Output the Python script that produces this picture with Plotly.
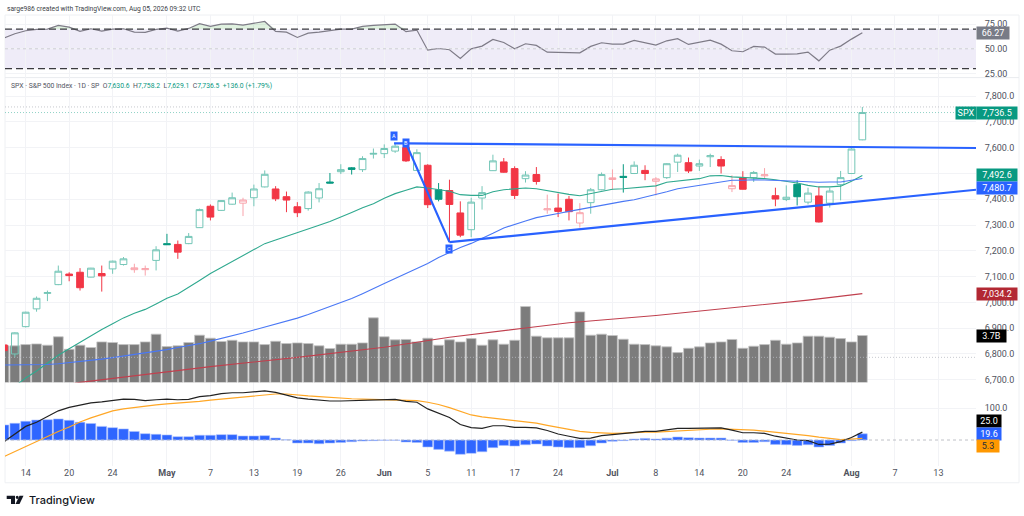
import plotly.graph_objs as go

W = 1024
H = 516
H_draw = 513.2

# bar number 0 is Apr 14, -2 and -1 are cut off by the left edge
first_idx = -2
tick_idx = [0, 4, 8, 13, 17, 21, 25, 29, 33, 37, 41, 45, 49, 54, 58, 62, 66, 70, 76, 80, 84]
tick_text = ['14', '20', '24', '<b>May</b>', '7', '13', '19', '26', '<b>Jun</b>', '5', '11', '17', '24',
             '<b>Jul</b>', '8', '14', '20', '24', '<b>Aug</b>', '7', '13']
x_min = -1.905
x_max = 87.46

opens = [6835, 6800, 6906, 6975, 7035, 7069, 7110, 7117, 7098, 7112, 7130, 7147, 7127, 7127, 7163, 7228,
         7225, 7228, 7290, 7373, 7357, 7381, 7385, 7406, 7448, 7440, 7410, 7371, 7364, 7405, 7467, 7507,
         7522, 7515, 7575, 7577, 7587, 7601, 7512, 7532, 7437, 7434, 7347, 7282, 7405, 7511, 7545, 7519,
         7480, 7496, 7359, 7366, 7400, 7308, 7387, 7437, 7477, 7489, 7500, 7512, 7470, 7484, 7544, 7542,
         7529, 7565, 7554, 7441, 7483, 7484, 7491, 7414, 7399, 7458, 7389, 7413, 7385, 7457, 7500, 7630.6]
highs = [6840, 6884, 6964, 7023, 7046, 7143, 7117, 7133, 7134, 7143, 7162, 7176, 7150, 7143, 7218, 7266,
         7240, 7269, 7364, 7380, 7396, 7426, 7406, 7457, 7512, 7451, 7430, 7389, 7431, 7463, 7502, 7536,
         7525, 7567, 7597, 7613, 7619, 7619, 7594, 7536, 7463, 7476, 7392, 7406, 7451, 7573, 7560, 7528,
         7509, 7525, 7418, 7422, 7413, 7385, 7444, 7504, 7516, 7536, 7547, 7532, 7486, 7540, 7577, 7562,
         7554, 7577, 7567, 7493, 7509, 7510, 7521, 7445, 7454, 7474, 7445, 7450, 7445, 7510, 7598, 7758.2]
lows = [6810, 6787, 6903, 6964, 7005, 7067, 7082, 7046, 7097, 7042, 7111, 7143, 7115, 7104, 7124, 7223,
        7169, 7226, 7289, 7318, 7355, 7379, 7335, 7373, 7446, 7393, 7350, 7331, 7356, 7388, 7462, 7498,
        7496, 7506, 7558, 7560, 7580, 7545, 7510, 7366, 7392, 7233, 7253, 7253, 7360, 7510, 7503, 7401,
        7465, 7457, 7344, 7331, 7318, 7290, 7344, 7435, 7437, 7426, 7498, 7474, 7415, 7479, 7506, 7502,
        7510, 7525, 7500, 7428, 7438, 7467, 7480, 7373, 7393, 7376, 7380, 7310, 7368, 7396, 7498, 7629.1]
closes = [6813, 6882, 6962, 7016, 7038, 7121, 7104, 7057, 7133, 7103, 7160, 7169, 7134, 7131, 7204, 7224,
          7195, 7256, 7360, 7331, 7395, 7406, 7397, 7440, 7497, 7402, 7397, 7348, 7428, 7441, 7463, 7515,
          7516, 7558, 7578, 7597, 7606, 7549, 7581, 7379, 7400, 7380, 7261, 7389, 7426, 7549, 7505, 7415,
          7494, 7469, 7363, 7353, 7352, 7348, 7437, 7496, 7483, 7485, 7532, 7500, 7479, 7538, 7571, 7510,
          7538, 7569, 7529, 7453, 7439, 7504, 7495, 7401, 7408, 7410, 7424, 7312, 7432, 7484, 7595, 7736.5]

ema20 = [None, 6675, 6707, 6734, 6765, 6795, 6820, 6845, 6871, 6895, 6917, 6940, 6958, 6973, 6994, 7016,
         7033, 7058, 7085, 7112, 7135, 7157, 7180, 7205, 7228, 7242, 7256, 7268, 7283, 7299, 7314, 7330,
         7349, 7367, 7383, 7404, 7422, 7435, 7448, 7444, 7437, 7431, 7418, 7415, 7415, 7429, 7437, 7441,
         7444, 7441, 7433, 7427, 7419, 7414, 7423, 7431, 7439, 7441, 7444, 7448, 7452, 7466, 7471, 7476,
         7480, 7491, 7492, 7487, 7485, 7483, 7480, 7476, 7470, 7463, 7454, 7448, 7448, 7451, 7470, 7492.6]
ema50 = [6757, 6757, 6757, 6758, 6759, 6762, 6766, 6770, 6774, 6780, 6786, 6792, 6797, 6803, 6811, 6817,
         6825, 6832, 6840, 6850, 6860, 6870, 6881, 6893, 6904, 6915, 6928, 6939, 6953, 6968, 6984, 7000,
         7015, 7034, 7052, 7073, 7093, 7112, 7132, 7151, 7174, 7195, 7213, 7229, 7247, 7268, 7289, 7301,
         7316, 7329, 7338, 7345, 7353, 7361, 7369, 7376, 7384, 7392, 7398, 7408, 7417, 7429, 7441, 7448,
         7455, 7461, 7468, 7474, 7474, 7476, 7475, 7474, 7472, 7470, 7468, 7466, 7467, 7467, 7474, 7480.7]
ema200_idx = [3, 5, 17, 25, 33, 39, 46, 50, 58, 66, 72, 77]
ema200 = [6675, 6690, 6751, 6787, 6826, 6865, 6901, 6921, 6949, 6984, 7009, 7034.2]

volume = [2.89, 2.89, 2.99, 3.04, 2.94, 3.60, 2.62, 2.94, 2.76, 3.20, 3.15, 2.99, 2.99, 3.20, 3.81, 2.83,
          2.89, 3.15, 3.73, 3.49, 3.23, 3.33, 3.20, 3.20, 2.99, 3.25, 3.07, 3.12, 3.07, 2.89, 2.68, 3.02,
          3.02, 3.12, 5.09, 3.60, 3.36, 3.39, 3.20, 3.49, 2.94, 3.36, 3.20, 3.46, 2.94, 3.36, 3.02, 3.33,
          5.98, 3.65, 3.52, 3.52, 3.52, 5.56, 3.73, 3.81, 3.70, 3.41, 3.02, 2.99, 2.89, 2.81, 2.36, 2.70,
          2.81, 3.12, 3.20, 3.39, 2.70, 2.86, 2.99, 3.33, 3.02, 3.12, 3.65, 3.65, 3.57, 3.46, 3.20, 3.70]

rsi = [60.8, 65.2, 68.3, 69.6, 70.0, 73.7, 72.0, 67.6, 70.3, 67.9, 70.0, 70.3, 66.9, 66.6, 69.6, 71.0,
       67.9, 70.6, 75.4, 72.7, 75.0, 75.2, 74.0, 76.0, 77.7, 67.6, 66.9, 61.5, 65.9, 66.9, 68.6, 70.0,
       70.0, 72.7, 73.7, 74.7, 75.0, 67.3, 69.0, 48.6, 50.3, 49.0, 40.2, 50.0, 52.7, 59.5, 56.4, 50.0,
       55.1, 53.4, 46.6, 46.3, 46.3, 45.9, 52.4, 56.1, 54.7, 54.7, 58.5, 55.8, 53.7, 58.1, 60.2, 54.4,
       56.4, 58.8, 54.7, 48.0, 47.0, 52.4, 51.7, 44.6, 44.6, 44.9, 46.6, 37.8, 48.6, 52.7, 59.8, 66.27]
rsi_levels = [70, 50, 30]

macd = [-5, 19, 43, 56, 74, 92, 103, 109, 117, 120, 124, 129, 128, 124, 127, 129,
        127, 128, 137, 140, 146, 149, 149, 151, 155, 150, 142, 133, 129, 126, 123, 123,
        124, 127, 128, 128, 128, 122, 119, 98, 84, 71, 49, 39, 37, 45, 45, 40,
        40, 38, 30, 19, 12, 5, 6, 14, 17, 20, 24, 27, 27, 32, 37, 37,
        37, 39, 38, 31, 23, 23, 21, 12, 5, 0, -2, -14, -13, -5, 8, 25.0]
signal = [-52, -36, -19, -4, 12, 27, 41, 57, 70, 82, 92, 98, 103, 107, 111, 114,
          116, 118, 122, 126, 129, 132, 134.5, 138, 142, 145, 145, 141, 139, 137, 134, 132,
          130, 129, 128, 128, 128, 127, 124, 119, 112, 102, 90, 79, 73, 69, 63, 59,
          56, 53, 46, 39, 32, 27, 24, 22, 21, 22, 24, 25, 25, 27, 30, 32,
          33, 34, 35, 34, 32, 31, 28, 25, 21, 18, 14, 9, 5, 1, 3, 5.3]
hist = [47.5, 52.7, 59, 63, 64, 66.5, 62, 56, 52, 43, 39, 35, 27, 20, 18, 16,
        10.5, 10.5, 15, 15, 17, 17, 12.7, 12.7, 13.7, 6.3, 0.5, -9.5, -9.5, -11.6, -9.5, -7.4,
        -5.3, -3.2, -2, -1, -1, -6.3, -7.4, -22, -29.5, -35, -45, -42, -37, -24, -17, -19,
        -15, -12.7, -19, -22, -24, -24, -18, -9.5, -4, -2, 3, 5, 3, 6, 9.5, 7.4,
        6.3, 6.3, 6.3, -1, -7.4, -7.4, -5.3, -13.7, -14.8, -17, -14.8, -22, -17, -9.5, -2, 19.6]

# pattern drawing
abc_idx = [33.9, 35, 39]
abc_price = [7617, 7617, 7234]
upper_idx = [35, x_max]
upper_price = [7617, 7599]
lower_idx = [39, x_max]
lower_price = [7234, 7437]

teal = '#089981'
teal_soft = '#74c6b7'
red = '#f23645'
red_soft = '#f9a3ab'
blue = '#2962ff'
grid = '#f2f3f6'
text_color = '#50535e'
font_name = 'Roboto'

idx = [first_idx + i for i in range(len(closes))]


def px_x(v):
    return v / W


def px_y(v):
    return 1 - v / H_draw


# domains in pixels from the top of the page
rsi_top, rsi_bottom = 15, 77.5
main_top, main_bottom = 78, 382
macd_top, macd_bottom = 382, 465

green_days = [i for i in range(len(closes)) if i > 0 and closes[i] > closes[i - 1]]
red_days = [i for i in range(len(closes)) if i not in green_days]


def pick(values, days):
    return [values[d] for d in days]


fig = go.Figure()

fig.add_trace(go.Bar(x=idx, y=volume, xaxis='x', yaxis='y2', marker=dict(color='#7c7c7c', line=dict(color='#c4c4c4', width=0.8))))
fig.add_trace(go.Scatter(x=idx, y=[rsi_levels[0]] * len(idx), xaxis='x', yaxis='y', mode='lines', line=dict(width=0)))
fig.add_trace(go.Scatter(x=idx, y=[max(v, rsi_levels[0]) for v in rsi], xaxis='x', yaxis='y', mode='lines',
                         line=dict(width=0), fill='tonexty', fillcolor='rgba(76,175,80,0.18)'))
fig.add_trace(go.Scatter(x=idx, y=rsi, xaxis='x', yaxis='y', mode='lines', line=dict(color='#7e7b87', width=1.2)))

fig.add_trace(go.Candlestick(x=pick(idx, green_days), open=pick(opens, green_days), high=pick(highs, green_days),
                             low=pick(lows, green_days), close=pick(closes, green_days), xaxis='x', yaxis='y4',
                             whiskerwidth=0,
                             increasing=dict(line=dict(color=teal_soft, width=1), fillcolor='rgba(0,0,0,0)'),
                             decreasing=dict(line=dict(color=teal, width=1), fillcolor=teal)))
fig.add_trace(go.Candlestick(x=pick(idx, red_days), open=pick(opens, red_days), high=pick(highs, red_days),
                             low=pick(lows, red_days), close=pick(closes, red_days), xaxis='x', yaxis='y4',
                             whiskerwidth=0,
                             increasing=dict(line=dict(color=red_soft, width=1), fillcolor='rgba(0,0,0,0)'),
                             decreasing=dict(line=dict(color=red, width=1), fillcolor=red)))
fig.add_trace(go.Scatter(x=idx, y=ema20, xaxis='x', yaxis='y4', mode='lines', line=dict(color='#2fa98f', width=1.1)))
fig.add_trace(go.Scatter(x=idx, y=ema50, xaxis='x', yaxis='y4', mode='lines', line=dict(color='#4a78f5', width=1.1)))
fig.add_trace(go.Scatter(x=ema200_idx, y=ema200, xaxis='x', yaxis='y4', mode='lines', line=dict(color='#c0404e', width=1.1)))
fig.add_trace(go.Scatter(x=abc_idx, y=abc_price, xaxis='x', yaxis='y4', mode='lines', line=dict(color=blue, width=2.2)))
fig.add_trace(go.Scatter(x=upper_idx, y=upper_price, xaxis='x', yaxis='y4', mode='lines', line=dict(color=blue, width=2.2)))
fig.add_trace(go.Scatter(x=lower_idx, y=lower_price, xaxis='x', yaxis='y4', mode='lines', line=dict(color=blue, width=2.2)))

fig.add_trace(go.Bar(x=idx, y=hist, xaxis='x', yaxis='y3', marker=dict(color='#2f66ff', line=dict(color='#a9c0ff', width=0.6))))
fig.add_trace(go.Scatter(x=idx, y=signal, xaxis='x', yaxis='y3', mode='lines', line=dict(color='#ffa726', width=1.2)))
fig.add_trace(go.Scatter(x=idx, y=macd, xaxis='x', yaxis='y3', mode='lines', line=dict(color='#222222', width=1.2)))

shapes = [
    dict(type='rect', xref='x', yref='y', x0=x_min, x1=x_max, y0=rsi_levels[2], y1=rsi_levels[0],
         fillcolor='#efecf8', line=dict(width=0), layer='below'),
    dict(type='line', xref='x', yref='y', x0=x_min, x1=x_max, y0=rsi_levels[0], y1=rsi_levels[0],
         line=dict(color='#3a3a3f', width=1.3, dash='7px,4px')),
    dict(type='line', xref='x', yref='y', x0=x_min, x1=x_max, y0=rsi_levels[2], y1=rsi_levels[2],
         line=dict(color='#3a3a3f', width=1.3, dash='7px,4px')),
    dict(type='line', xref='x', yref='y', x0=x_min, x1=x_max, y0=rsi_levels[1], y1=rsi_levels[1],
         line=dict(color='#c5c3cc', width=0.8, dash='3px,3px')),
    dict(type='line', xref='x', yref='y4', x0=x_min, x1=x_max, y0=closes[-1], y1=closes[-1],
         line=dict(color=teal_soft, width=0.8, dash='1px,2px')),
    dict(type='line', xref='x', yref='y4', x0=x_min, x1=x_max, y0=max(highs), y1=max(highs),
         line=dict(color='#b8bac2', width=0.8, dash='1px,2px')),
    dict(type='line', xref='x', yref='y4', x0=x_min, x1=x_max, y0=min(lows), y1=min(lows),
         line=dict(color='#b8bac2', width=0.8, dash='1px,2px')),
    dict(type='line', xref='x', yref='y3', x0=x_min, x1=x_max, y0=0, y1=0,
         line=dict(color='#b0b2ba', width=0.8, dash='3px,3px')),
    # outer frame and pane separator
    dict(type='rect', xref='paper', yref='paper', x0=px_x(5), x1=px_x(1019), y0=px_y(482), y1=px_y(15),
         line=dict(color='#eef0f3', width=1), layer='below'),
    dict(type='line', xref='paper', yref='paper', x0=px_x(5), x1=px_x(1019), y0=px_y(77.5), y1=px_y(77.5),
         line=dict(color='#e9ebef', width=1), layer='below'),
    # logo
    dict(type='path', xref='paper', yref='paper', fillcolor='#131722', line=dict(width=0),
         path='M {} {} L {} {} L {} {} L {} {} L {} {} L {} {} Z'.format(
             px_x(6.7), px_y(495), px_x(15), px_y(495), px_x(15), px_y(503.3),
             px_x(11), px_y(503.3), px_x(11), px_y(498.3), px_x(6.7), px_y(498.3))),
    dict(type='circle', xref='paper', yref='paper', fillcolor='#131722', line=dict(width=0),
         x0=px_x(15.7), x1=px_x(18.7), y0=px_y(498.2), y1=px_y(495)),
    dict(type='path', xref='paper', yref='paper', fillcolor='#131722', line=dict(width=0),
         path='M {} {} L {} {} L {} {} L {} {} Z'.format(
             px_x(19.5), px_y(495), px_x(23.5), px_y(495), px_x(19.5), px_y(503.3), px_x(15.5), px_y(503.3))),
]


def box_label(text, yref, y, bg, left=976, width=40, color='white', shift=0):
    return dict(text=text, xref='paper', yref=yref, x=px_x(left), y=y, xanchor='left', yanchor='middle',
                showarrow=False, bgcolor=bg, width=width, height=12, align='center', borderpad=0, yshift=shift,
                font=dict(family=font_name, size=9, color=color))


def point_label(text, x, y):
    return dict(text=text, xref='x', yref='y4', x=x, y=y, showarrow=False, bgcolor=blue, width=6, height=8,
                borderpad=0, font=dict(family=font_name, size=5.5, color='white'))


legend_text = ('SPX · S&P 500 Index · 1D · SP  '
               'O<span style="color:{t}">7,630.6</span>  H<span style="color:{t}">7,758.2</span>  '
               'L<span style="color:{t}">7,629.1</span>  C<span style="color:{t}">7,736.5</span>  '
               '<span style="color:{t}">+136.0 (+1.79%)</span>').format(t=teal)

annotations = [
    dict(text='sarge986 created with TradingView.com, Aug 05, 2026 09:32 UTC', xref='paper', yref='paper',
         x=px_x(4.5), y=px_y(8.5), xanchor='left', yanchor='middle', showarrow=False,
         font=dict(family=font_name, size=6.7, color='#3c3f48')),
    dict(text=legend_text, xref='paper', yref='paper', x=px_x(8.5), y=px_y(85.5), xanchor='left', yanchor='middle',
         showarrow=False, font=dict(family=font_name, size=6.8, color=text_color)),
    dict(text='TradingView', xref='paper', yref='paper', x=px_x(26.5), y=px_y(499.3), xanchor='left', yanchor='middle',
         showarrow=False, font=dict(family='Inter', size=11, color='#131722', weight=500)),
    box_label('{:.2f}'.format(rsi[-1]), 'y', rsi[-1], '#787b86', width=32),
    box_label('SPX', 'y4', closes[-1], teal, left=955, width=20),
    box_label('{:,.1f}'.format(closes[-1]), 'y4', closes[-1], teal),
    box_label('{:,.1f}'.format(ema20[-1]), 'y4', ema20[-1], teal),
    box_label('{:,.1f}'.format(ema50[-1]), 'y4', ema50[-1], blue, shift=-10),
    box_label('{:,.1f}'.format(ema200[-1]), 'y4', ema200[-1], '#b22833'),
    box_label('{:.1f}B'.format(volume[-1]), 'y2', volume[-1], '#000000', width=29),
    box_label('{:.1f}'.format(macd[-1]), 'y3', macd[-1], '#000000', width=24, shift=11.4),
    box_label('{:.1f}'.format(hist[-1]), 'y3', hist[-1], blue, width=24),
    box_label('{:.1f}'.format(signal[-1]), 'y3', signal[-1], '#ff9800', width=22, color='#2a2e39', shift=-8),
    point_label('A', abc_idx[0], 7646),
    point_label('B', abc_idx[1], abc_price[1]),
    point_label('C', abc_idx[2], 7209),
]

tick_font = dict(family=font_name, size=9, color=text_color)
hidden_tick = dict(ticks='outside', ticklen=6, tickcolor='rgba(0,0,0,0)')

layout = go.Layout(
    width=W,
    height=H,
    margin=dict(l=0, r=0, t=0, b=0),
    autosize=False,
    paper_bgcolor='white',
    plot_bgcolor='white',
    showlegend=False,
    bargap=0.1,
    boxgap=0.12,
    shapes=shapes,
    annotations=annotations,
    xaxis=dict(
        domain=[px_x(5), px_x(976)],
        range=[x_min, x_max],
        anchor='y3',
        tickvals=tick_idx,
        ticktext=tick_text,
        tickfont=tick_font,
        showgrid=True,
        gridcolor=grid,
        zeroline=False,
        showline=False,
        ticks='',
        rangeslider=dict(visible=False),
    ),
    yaxis=dict(
        domain=[px_y(rsi_bottom), px_y(rsi_top)],
        range=[20.8, 84.2],
        side='right',
        tickvals=[25, 50, 75],
        tickformat='.2f',
        tickfont=tick_font,
        gridcolor=grid,
        zeroline=False,
        **hidden_tick,
    ),
    yaxis2=dict(
        domain=[px_y(main_bottom), px_y(main_top)],
        range=[0, 23.94],
        visible=False,
    ),
    yaxis3=dict(
        domain=[px_y(macd_bottom), px_y(macd_top)],
        range=[-81, 181],
        side='right',
        tickvals=[100],
        tickformat='.1f',
        tickfont=tick_font,
        gridcolor=grid,
        zeroline=False,
        **hidden_tick,
    ),
    yaxis4=dict(
        overlaying='y2',
        range=[6689, 7870],
        side='right',
        tickvals=[6700, 6800, 6900, 7000, 7100, 7200, 7300, 7400, 7500, 7600, 7700, 7800],
        tickformat=',.1f',
        tickfont=tick_font,
        gridcolor=grid,
        zeroline=False,
        **hidden_tick,
    ),
)

fig.update(layout=layout)
fig.update_traces(hoverinfo='skip')

# the browser's default body margin would push the page 8px off
fig.write_html("out.html", config=dict(displayModeBar=False),
               post_script="document.body.style.margin='0';document.body.style.height='516px';document.body.style.overflow='hidden';")
